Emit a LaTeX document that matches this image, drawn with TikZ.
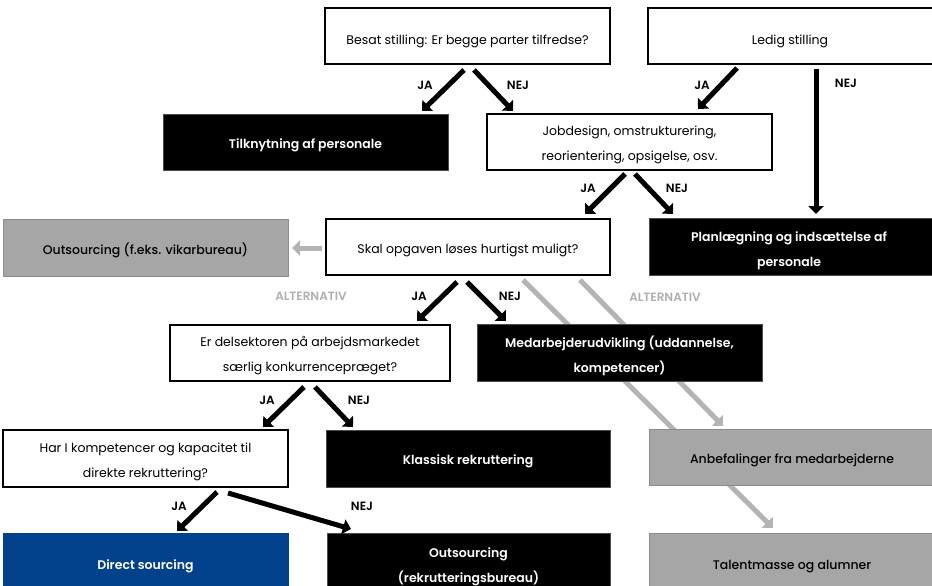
\documentclass[tikz,border=0pt]{standalone}
\usepackage{fontspec}
\setmainfont{Poppins}
\newfontfamily\semib{Poppins SemiBold}
\newfontfamily\medf{Poppins Medium}
\usetikzlibrary{arrows.meta}
\definecolor{dsblue}{HTML}{02418C}
\definecolor{boxgray}{HTML}{A6A6A6}
\definecolor{boxgrayline}{HTML}{8C8C8C}
\definecolor{arrgray}{HTML}{B4B4B4}
\definecolor{altgray}{HTML}{AFAFAF}
\tikzset{
  base/.style={rectangle, minimum height=56pt, inner sep=0pt},
  whitebox/.style={base, draw=black, line width=1.1pt, fill=white},
  blackbox/.style={base, draw=black!70, line width=0.8pt, fill=black},
  graybox/.style={base, draw=boxgrayline, line width=1pt, fill=boxgray},
  bluebox/.style={base, draw=dsblue, line width=0.8pt, fill=dsblue},
  txt/.style={inner sep=0pt, align=center, text=black, font=\fontsize{12.5}{25}\selectfont},
  wtxt/.style={txt, text=white, font=\fontsize{12.5}{25}\selectfont\semib},
  gtxt/.style={txt, font=\fontsize{12.5}{25}\selectfont\medf},
  bigarrow/.style={line width=5pt, -{Triangle[width=15pt,length=8pt]}, black},
  grayarrow/.style={line width=5pt, -{Triangle[width=15pt,length=8pt]}, arrgray},
  lbl/.style={font=\fontsize{12}{14}\selectfont\semib, text=black, inner sep=0pt},
  altlbl/.style={font=\fontsize{12}{14}\selectfont\semib, text=altgray, inner sep=0pt},
}
\begin{document}
\begin{tikzpicture}[x=1pt,y=-1pt]
\useasboundingbox (0,0) rectangle (932,586);

% gray alternative arrows (behind boxes)
\coordinate (g1s) at (523,280);
\coordinate (g1e) at (773,528);
\coordinate (g2s) at (580,280);
\coordinate (g2e) at (723,426);
\draw[grayarrow] (g1s) -- (g1e);
\draw[grayarrow] (g2s) -- (g2e);

% boxes
\node[whitebox, minimum width=285pt] (besat) at (467.5,36) {};
\node[whitebox, minimum width=286pt] (ledig) at (791,36) {};
\node[blackbox, minimum width=285pt] (tilk) at (305.5,142) {};
\node[whitebox, minimum width=285pt] (jobd) at (629.5,142) {};
\node[blackbox, minimum width=286pt, minimum height=57pt] (plan) at (792,246.5) {};
\node[graybox, minimum width=285pt, minimum height=57pt] (outs1) at (145.5,247.5) {};
\node[whitebox, minimum width=284pt] (skal) at (468,247) {};
\node[whitebox, minimum width=280pt] (delsek) at (310,353) {};
\node[blackbox, minimum width=285pt, minimum height=57pt] (medarb) at (619.5,352.5) {};
\node[whitebox, minimum width=285pt, minimum height=57pt] (hari) at (145.5,458.5) {};
\node[blackbox, minimum width=284pt, minimum height=57pt] (klass) at (468,458.5) {};
\node[graybox, minimum width=286pt] (anbef) at (792,457) {};
\node[bluebox, minimum width=285pt, minimum height=62pt] (direct) at (145.5,564) {};
\node[blackbox, minimum width=283pt, minimum height=62pt] (outs2) at (468.5,564) {};
\node[graybox, minimum width=286pt, minimum height=62pt] (talent) at (792,564) {};

% box texts
\node[txt]  (besat-t)  at ([yshift=-5pt]besat.center)  {Besat stilling: Er begge parter tilfredse?};
\node[txt]  (ledig-t)  at ([xshift=-1pt,yshift=-5pt]ledig.center)  {Ledig stilling};
\node[wtxt] (tilk-t)   at ([yshift=-3pt]tilk.center)   {Tilknytning af personale};
\node[txt]  (jobd-t)   at ([yshift=-3pt]jobd.center)   {Jobdesign, omstrukturering,\\reorientering, opsigelse, osv.};
\node[wtxt] (plan-t)   at ([xshift=-3pt,yshift=-4pt]plan.center)   {Planlægning og indsættelse af\\personale};
\node[gtxt] (outs1-t)  at ([yshift=-3pt]outs1.center)  {Outsourcing (f.eks. vikarbureau)};
\node[txt]  (skal-t)   at ([yshift=-3pt]skal.center)   {Skal opgaven løses hurtigst muligt?};
\node[txt]  (delsek-t) at ([yshift=-3pt]delsek.center) {Er delsektoren på arbejdsmarkedet\\særlig konkurrencepræget?};
\node[wtxt] (medarb-t) at ([yshift=-3pt]medarb.center) {Medarbejderudvikling (uddannelse,\\kompetencer)};
\node[txt]  (hari-t)   at ([yshift=-3pt]hari.center)   {Har I kompetencer og kapacitet til\\direkte rekruttering?};
\node[wtxt] (klass-t)  at ([yshift=-3pt]klass.center)  {Klassisk rekruttering};
\node[gtxt] (anbef-t)  at ([yshift=-3pt]anbef.center)  {Anbefalinger fra medarbejderne};
\node[wtxt] (direct-t) at ([yshift=-2pt]direct.center) {Direct sourcing};
\node[wtxt] (outs2-t)  at ([yshift=-3pt]outs2.center)  {Outsourcing\\(rekrutteringsbureau)};
\node[gtxt] (talent-t) at ([yshift=-3pt]talent.center) {Talentmasse og alumner};

% arrow end points
\coordinate (a1s) at (464,70);  \coordinate (a1e) at (422,111);
\coordinate (a2s) at (474,70);  \coordinate (a2e) at (513,111);
\coordinate (a3s) at (737,68);  \coordinate (a3e) at (698,109);
\coordinate (a4s) at (816,69);  \coordinate (a4e) at (816,214);
\coordinate (a5s) at (625,174); \coordinate (a5e) at (585,214);
\coordinate (a6s) at (635,174); \coordinate (a6e) at (673,214);
\coordinate (a7s) at (457,282); \coordinate (a7e) at (417,321);
\coordinate (a8s) at (467,282); \coordinate (a8e) at (506,321);
\coordinate (a9s) at (304,387); \coordinate (a9e) at (263,427);
\coordinate (a10s) at (315,387); \coordinate (a10e) at (353,427);
\coordinate (a11s) at (217,492); \coordinate (a11e) at (177,531);
\coordinate (a12s) at (228,493); \coordinate (a12e) at (351,529);
\coordinate (a13s) at (322,248); \coordinate (a13e) at (292,248);

\draw[bigarrow] (a1s) -- (a1e);
\draw[bigarrow] (a2s) -- (a2e);
\draw[bigarrow] (a3s) -- (a3e);
\draw[bigarrow] (a4s) -- (a4e);
\draw[bigarrow] (a5s) -- (a5e);
\draw[bigarrow] (a6s) -- (a6e);
\draw[bigarrow] (a7s) -- (a7e);
\draw[bigarrow] (a8s) -- (a8e);
\draw[bigarrow] (a9s) -- (a9e);
\draw[bigarrow] (a10s) -- (a10e);
\draw[bigarrow] (a11s) -- (a11e);
\draw[bigarrow] (a12s) -- (a12e);
\draw[grayarrow] (a13s) -- (a13e);

% labels
\node[lbl] (l1) at (425,85) {JA};
\node[lbl] (l2) at (518,85) {NEJ};
\node[lbl] (l3) at (702,85) {JA};
\node[lbl] (l4) at (846,83) {NEJ};
\node[lbl] (l5) at (588,188) {JA};
\node[lbl] (l6) at (677,188) {NEJ};
\node[lbl] (l7) at (419,296) {JA};
\node[lbl] (l8) at (510,296) {NEJ};
\node[lbl] (l9) at (267,400) {JA};
\node[lbl] (l10) at (359,400) {NEJ};
\node[lbl] (l11) at (179,506) {JA};
\node[lbl] (l12) at (362,506) {NEJ};
\node[altlbl] (alt1) at (311,296) {ALTERNATIV};
\node[altlbl] (alt2) at (665,297) {ALTERNATIV};
\end{tikzpicture}
\end{document}
